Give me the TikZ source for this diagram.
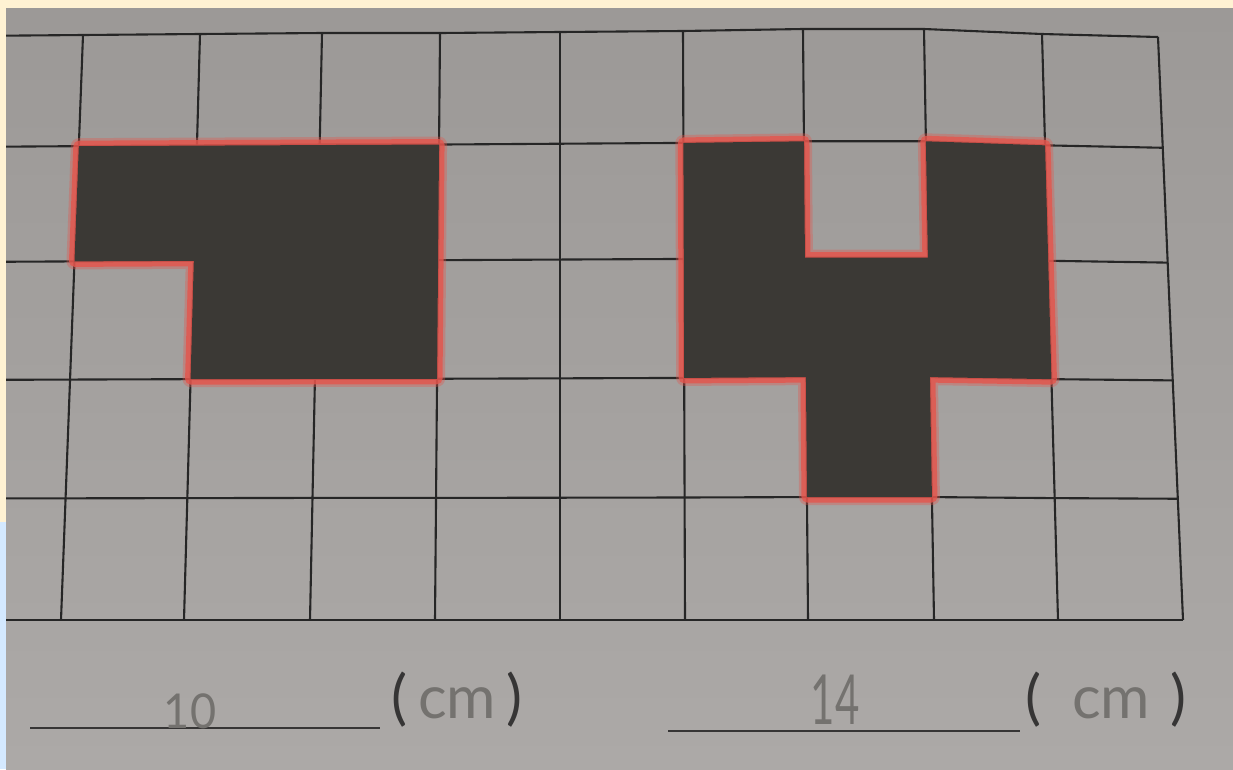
\documentclass[tikz,border=0pt]{standalone}
\usepackage{fontspec}
\usepackage{graphicx}
\newfontfamily\hand{Lato}
\usetikzlibrary{calc}

\definecolor{cream}{HTML}{FFF2D3}
\definecolor{skyedge}{HTML}{D4E9FF}
\definecolor{paperTop}{HTML}{9C9997}
\definecolor{paperBot}{HTML}{ACA9A7}
\definecolor{gridink}{HTML}{262626}
\definecolor{ink}{HTML}{3B3935}
\definecolor{marker}{HTML}{E4554C}
\definecolor{pencil}{HTML}{74726F}
\definecolor{paren}{HTML}{363535}

\begin{document}
\begin{tikzpicture}[x={(1pt,0pt)}, y={(0pt,-1pt)},
    gridline/.style={draw=gridink, line width=2.1pt},
    inked/.style={fill=ink,
        preaction={draw=marker, line width=16pt, line join=round, opacity=0.35},
        preaction={draw=marker, line width=11pt, line join=round, opacity=0.8}},
    digits/.style={text=pencil, font=\hand\fontsize{60}{66}\selectfont, anchor=base, inner sep=0pt},
    unit/.style={text=pencil, font=\hand\fontsize{60}{66}\selectfont, anchor=base, inner sep=0pt},
    blank/.style={draw=paren, line width=2pt}]

    \useasboundingbox (0,0) rectangle (1233,769);

    % border strips and paper
    \fill [cream] (0,0) rectangle (1233,769);
    \fill [skyedge] (0,522) rectangle (6,769);
    \shade [top color=paperTop, bottom color=paperBot] (6,8) rectangle (1233,769);

    % grid corners: top and bottom ends of each vertical line
    \foreach \i/\xt/\yt/\xb in {0/83/35/61, 1/200/34/184, 2/322/33/310, 3/440/33/435, 4/560/32/560,
                                5/683/31/685, 6/803/29/808, 7/924/29/934, 8/1042/34/1058, 9/1158/37/1183} {
        \coordinate (t\i) at (\xt,\yt);
        \coordinate (b\i) at (\xb,620);
        \foreach \j/\f in {0/0, 1/0.19, 2/0.387, 3/0.589, 4/0.792, 5/1}
            \coordinate (g\i-\j) at ($(t\i)!\f!(b\i)$);
    }

    % grid lines
    \begin{scope}
        \clip (6,8) rectangle (1233,769);
        \foreach \j in {0,...,5}
            \draw [gridline] ($(g0-\j)!-1!(g1-\j)$) -- (g0-\j) \foreach \i in {1,...,9} { -- (g\i-\j) };
        \foreach \i in {0,...,9}
            \draw [gridline] (t\i) -- (b\i);
    \end{scope}

    % left shape
    \path [inked] (g0-1) -- (g3-1) -- (g3-3) -- (g1-3) -- (g1-2) -- (g0-2) -- cycle;

    % right shape
    \path [inked] (g5-1) -- (g6-1) -- (g6-2) -- (g7-2) -- (g7-1) -- (g8-1) -- (g8-3)
        -- (g7-3) -- (g7-4) -- (g6-4) -- (g6-3) -- (g5-3) -- cycle;

    % answer lines
    \coordinate (lineL-a) at (30,728);
    \coordinate (lineL-b) at (380,728);
    \coordinate (lineR-a) at (668,731);
    \coordinate (lineR-b) at (1020,731);
    \draw [blank] (lineL-a) -- (lineL-b);
    \draw [blank] (lineR-a) -- (lineR-b);

    \node [digits] (ansL) at (190,728) {\scalebox{0.75}[0.8]{10}};
    \node [digits] (ansR) at (835,724) {\scalebox{0.7}[1.15]{14}};

    \node [unit] (unitL) at (457,718) {\textcolor{paren}{(}\,cm\,\textcolor{paren}{)}};
    \node [unit] (unitR) at (1106,718) {\textcolor{paren}{(}\,\,\,cm\,\,\textcolor{paren}{)}};

\end{tikzpicture}
\end{document}
